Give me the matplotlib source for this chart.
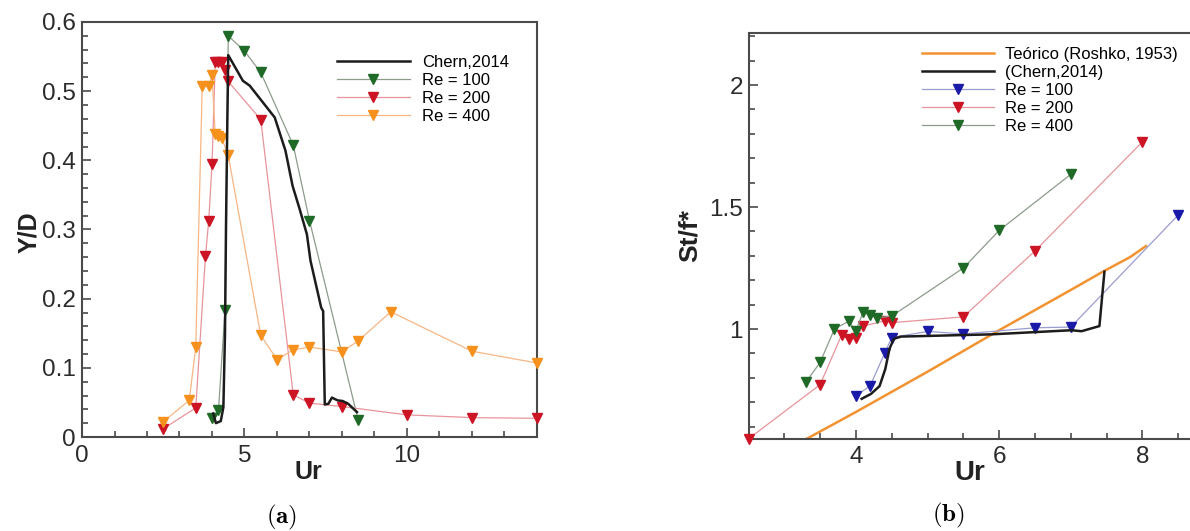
import matplotlib
matplotlib.use("Agg")
import matplotlib.pyplot as plt
from matplotlib.ticker import MultipleLocator, FuncFormatter

plt.rcParams["font.family"] = ["Liberation Sans", "DejaVu Sans"]
plt.rcParams["mathtext.fontset"] = "cm"

# ---------------- (a) amplitude Y/D vs Ur ----------------
chern_a_ur = [4.04, 4.12, 4.27, 4.35, 4.40, 4.43, 4.47, 4.50, 4.95, 5.16, 5.93, 6.26,
              6.48, 6.70, 6.92, 7.03, 7.36, 7.42, 7.47, 7.58, 7.69, 7.86, 8.02, 8.19, 8.46]
chern_a_yd = [0.034, 0.020, 0.023, 0.043, 0.150, 0.300, 0.450, 0.552, 0.515, 0.508, 0.462, 0.414,
              0.363, 0.329, 0.293, 0.255, 0.187, 0.182, 0.047, 0.048, 0.057, 0.053, 0.052, 0.048, 0.036]

re100_a_ur = [4.0, 4.2, 4.4, 4.5, 5.0, 5.5, 6.5, 7.0, 8.5]
re100_a_yd = [0.028, 0.039, 0.184, 0.580, 0.558, 0.527, 0.422, 0.313, 0.024]

re200_a_ur = [2.5, 3.5, 3.8, 3.9, 4.0, 4.1, 4.2, 4.3, 4.4, 4.5, 5.5, 6.5, 7.0, 8.0, 10.0, 12.0, 14.0]
re200_a_yd = [0.012, 0.042, 0.262, 0.313, 0.394, 0.542, 0.542, 0.542, 0.530, 0.514, 0.459,
              0.061, 0.049, 0.044, 0.032, 0.028, 0.027]

re400_a_ur = [2.5, 3.3, 3.5, 3.7, 3.9, 4.0, 4.1, 4.2, 4.3, 4.5, 5.5, 6.0, 6.5, 7.0, 8.0, 8.5, 9.5, 12.0, 14.0]
re400_a_yd = [0.022, 0.053, 0.130, 0.507, 0.507, 0.523, 0.438, 0.435, 0.432, 0.407, 0.147,
              0.112, 0.126, 0.130, 0.123, 0.139, 0.181, 0.124, 0.107]

# ---------------- (b) St/f* vs Ur ----------------
roshko_ur = [3.30, 4.0, 5.0, 6.0, 7.0, 7.46, 7.83, 8.05]
roshko_st = [0.548, 0.660, 0.825, 0.995, 1.160, 1.237, 1.295, 1.340]

chern_b_ur = [4.08, 4.21, 4.33, 4.41, 4.47, 4.53, 4.63, 5.88, 7.01, 7.15, 7.40, 7.47]
chern_b_st = [0.714, 0.734, 0.766, 0.836, 0.920, 0.960, 0.969, 0.978, 0.995, 0.991, 1.012, 1.235]

re100_b_ur = [4.0, 4.2, 4.4, 4.5, 5.0, 5.5, 6.5, 7.0, 8.5]
re100_b_st = [0.725, 0.768, 0.900, 0.965, 0.990, 0.980, 1.005, 1.008, 1.467]

re200_b_ur = [2.5, 3.5, 3.8, 3.9, 4.0, 4.1, 4.4, 4.5, 5.5, 6.5, 8.0]
re200_b_st = [0.550, 0.772, 0.975, 0.958, 0.962, 1.012, 1.033, 1.026, 1.050, 1.320, 1.767]

re400_b_ur = [3.3, 3.5, 3.7, 3.9, 4.0, 4.1, 4.2, 4.3, 4.5, 5.5, 6.0, 7.0]
re400_b_st = [0.782, 0.863, 1.000, 1.032, 0.992, 1.070, 1.057, 1.046, 1.053, 1.250, 1.404, 1.634]

# colours: (line, marker)
GREEN = ("#8c9c8c", "#1f6a27")
RED = ("#e8949c", "#cc1424")
ORANGE = ("#f7b684", "#f5911c")
BLUE = ("#9a9cd2", "#1a1aa8")
CHERN = "#1c1c1c"
ROSHKO = "#f29230"

W, H = 1190, 531
fig = plt.figure(figsize=(W / 100, H / 100), dpi=100)
ax1 = fig.add_axes([82 / W, 1 - 437 / H, 455 / W, 415 / H])
ax2 = fig.add_axes([748.5 / W, 1 - 439.3 / H, 465.5 / W, 406 / H])

fmt = FuncFormatter(lambda v, p: f"{v:g}")


def style(ax, fs, padx, pady):
    for s in ax.spines.values():
        s.set_linewidth(1.5)
        s.set_color("#4a4a4a")
    ax.tick_params(which="both", direction="in", top=False, right=False,
                   color="#4a4a4a", labelcolor="#2b2b2b", width=1.2)
    ax.tick_params(which="major", length=6.5)
    ax.tick_params(which="minor", length=4)
    ax.tick_params(axis="x", labelsize=fs, pad=padx)
    ax.tick_params(axis="y", labelsize=fs, pad=pady)
    ax.xaxis.set_major_formatter(fmt)
    ax.yaxis.set_major_formatter(fmt)


def series(ax, x, y, cols, label):
    ax.plot(x, y, "-", color=cols[0], lw=0.9, marker="v", ms=7,
            mfc=cols[1], mec=cols[1], label=label, clip_on=False, zorder=3)


# ---- panel (a)
ax1.plot(chern_a_ur, chern_a_yd, "-", color=CHERN, lw=1.8, label="Chern,2014", zorder=4)
series(ax1, re100_a_ur, re100_a_yd, GREEN, "Re = 100")
series(ax1, re200_a_ur, re200_a_yd, RED, "Re = 200")
series(ax1, re400_a_ur, re400_a_yd, ORANGE, "Re = 400")
ax1.set_xlim(0, 14)
ax1.set_ylim(0, 0.6)
ax1.xaxis.set_major_locator(MultipleLocator(5))
ax1.xaxis.set_minor_locator(MultipleLocator(1))
ax1.yaxis.set_major_locator(MultipleLocator(0.1))
ax1.yaxis.set_minor_locator(MultipleLocator(0.02))
style(ax1, 17.5, 5.5, 4.5)
ax1.legend(loc="upper left", bbox_to_anchor=(0.56, 0.921), frameon=False,
           fontsize=12, handlelength=4.4, handletextpad=0.7, labelspacing=0.18,
           borderpad=0, borderaxespad=0, numpoints=1)

# ---- panel (b)
ax2.plot(roshko_ur, roshko_st, "-", color=ROSHKO, lw=1.8, label="Teórico (Roshko, 1953)", zorder=2)
ax2.plot(chern_b_ur, chern_b_st, "-", color=CHERN, lw=1.8, label="(Chern,2014)", zorder=4)
series(ax2, re100_b_ur, re100_b_st, BLUE, "Re = 100")
series(ax2, re200_b_ur, re200_b_st, RED, "Re = 200")
series(ax2, re400_b_ur, re400_b_st, GREEN, "Re = 400")
ax2.set_xlim(2.5, 9)
ax2.set_ylim(0.548, 2.212)
ax2.xaxis.set_major_locator(MultipleLocator(2))
ax2.xaxis.set_minor_locator(MultipleLocator(0.5))
ax2.yaxis.set_major_locator(MultipleLocator(0.5))
ax2.yaxis.set_minor_locator(MultipleLocator(0.1))
style(ax2, 17.5, 4.5, 4)
ax2.legend(loc="upper left", bbox_to_anchor=(0.373, 0.967), frameon=False,
           fontsize=12, handlelength=4.3, handletextpad=0.7, labelspacing=0.18,
           borderpad=0, borderaxespad=0, numpoints=1)

# axis titles
fig.text(308 / W, 1 - 479 / H, "Ur", fontsize=18, fontweight="bold", ha="center", va="baseline", color="#222222")
fig.text(36 / W, 1 - 232 / H, "Y/D", fontsize=18, fontweight="bold", rotation=90,
         rotation_mode="anchor", ha="center", va="baseline", color="#222222")
fig.text(970 / W, 1 - 480 / H, "Ur", fontsize=20, fontweight="bold", ha="center", va="baseline", color="#222222")
fig.text(697 / W, 1 - 236 / H, "St/f*", fontsize=19, fontweight="bold", rotation=90,
         rotation_mode="anchor", ha="center", va="baseline", color="#222222")

# sub-figure captions
fig.text(282 / W, 1 - 517 / H, r"$\mathbf{(a)}$", fontsize=18, ha="center", va="center")
fig.text(948 / W, 1 - 515 / H, r"$\mathbf{(b)}$", fontsize=18, ha="center", va="center")

fig.savefig("out.png", dpi=100)
